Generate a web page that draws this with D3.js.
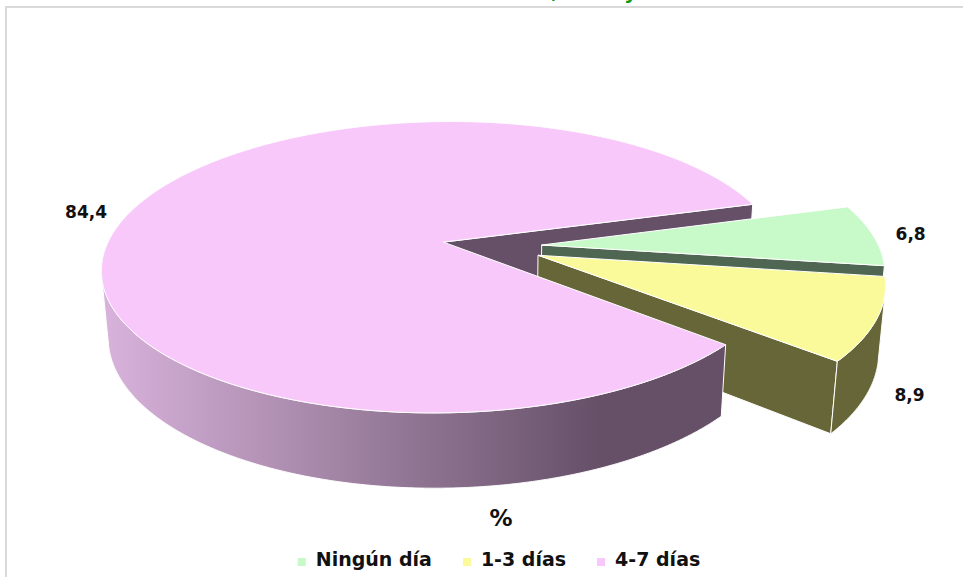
<!DOCTYPE html>
<html>
<head>
<meta charset="utf-8">
<script src="https://cdn.jsdelivr.net/npm/d3@7"></script>
<style>
  body { margin: 0; background: #fff; }
  svg { display: block; }
</style>
</head>
<body>
<script>
// data
const categories = ["Ningún día", "1-3 días", "4-7 días"];
const values = [6.8, 8.9, 84.4];
const valueLabels = ["6,8", "8,9", "84,4"];
const axisTitle = "%";

// palette
const topColor = d3.scaleOrdinal(categories, ["#c8f9c8", "#fafa9b", "#f8c8fa"]);
const sideColor = d3.scaleOrdinal(categories, ["#4e6652", "#666638", "#655068"]);
const sideLight = d3.scaleOrdinal(categories, ["#6f8a72", "#8a8a55", "#d9b3dc"]);

const W = 963, H = 577;
const svg = d3.select("body").append("svg")
    .attr("width", W)
    .attr("height", H);

// chart area frame (only top/left visible)
svg.append("path")
    .attr("d", "M6,577V7H963")
    .attr("fill", "none")
    .attr("stroke", "#d9d9d9")
    .attr("stroke-width", 2);

// cut-off title
svg.append("text").attr("x", 551).attr("y", -2)
    .attr("font-family", "DejaVu Sans").attr("font-weight", "bold").attr("font-size", 20)
    .attr("fill", "#119a11").text(",");
svg.append("text").attr("x", 624).attr("y", -1)
    .attr("font-family", "DejaVu Sans").attr("font-weight", "bold").attr("font-size", 20)
    .attr("fill", "#119a11").text("y");

// 3d projection
const cx = 492, cy = 246.5, fx = 1770, fy = 1795;
const D = 5.25, tilt = 24.7 * Math.PI / 180;
const depth = 0.215, explode = 0.148;
const sinT = Math.sin(tilt), cosT = Math.cos(tilt);
const cam = [0, D * sinT, D * cosT];

function project(p) {
  const [x, y, z] = p;
  const v = y * cosT - z * sinT;
  const d = D - (y * sinT + z * cosT);
  return [cx + fx * x / d, cy - fy * v / d, d];
}

const start = 73.7 * Math.PI / 180;
const pie = d3.pie().sort(null).startAngle(start).endAngle(start + 2 * Math.PI);
const arcs = pie(values).map((a, i) => {
  const mid = (a.startAngle + a.endAngle) / 2;
  return {...a, key: categories[i], label: valueLabels[i], mid,
    ox: explode * Math.sin(mid), oz: -explode * Math.cos(mid)};
});

const pt = (a, t, r, y) => [a.ox + r * Math.sin(t), y, a.oz - r * Math.cos(t)];
const line = d3.line();

function sampleAngles(t0, t1) {
  const n = Math.max(2, Math.ceil((t1 - t0) / 0.005));
  return d3.range(n + 1).map(i => t0 + (t1 - t0) * i / n);
}
function facing(p, n) {
  return (cam[0] - p[0]) * n[0] + (cam[1] - p[1]) * n[1] + (cam[2] - p[2]) * n[2] > 0;
}

const sides = [], tops = [];
arcs.forEach(a => {
  const ts = sampleAngles(a.startAngle, a.endAngle);
  // top face
  const topPts = [pt(a, 0, 0, 0), ...ts.map(t => pt(a, t, 1, 0))].map(project);
  tops.push({a, type: "top", pts: topPts});

  // outer wall, visible runs only
  let run = [];
  const flush = () => {
    if (run.length > 1) {
      const pts = [...run.map(t => pt(a, t, 1, 0)), ...run.slice().reverse().map(t => pt(a, t, 1, -depth))].map(project);
      sides.push({a, type: "wall", pts});
    }
    run = [];
  };
  ts.forEach(t => {
    if (facing(pt(a, t, 1, 0), [Math.sin(t), 0, -Math.cos(t)])) run.push(t);
    else flush();
  });
  flush();

  // cut faces
  const c = pt(a, 0, 0, 0);
  [[a.startAngle, [-Math.cos(a.startAngle), 0, -Math.sin(a.startAngle)]],
   [a.endAngle, [Math.cos(a.endAngle), 0, Math.sin(a.endAngle)]]].forEach(([t, n]) => {
    if (!facing(c, n)) return;
    const pts = [pt(a, t, 0, 0), pt(a, t, 1, 0), pt(a, t, 1, -depth), pt(a, t, 0, -depth)].map(project);
    sides.push({a, type: "cut", pts});
  });
});

const meanD = f => d3.mean(f.pts, p => p[2]);
sides.sort((p, q) => meanD(q) - meanD(p));
tops.sort((p, q) => meanD(q) - meanD(p));

// wall gradients
const defs = svg.append("defs");
arcs.forEach((a, i) => {
  const g = defs.append("linearGradient")
      .attr("id", "wall" + i)
      .attr("gradientUnits", "userSpaceOnUse")
      .attr("x1", 100).attr("x2", 600).attr("y1", 0).attr("y2", 0);
  g.append("stop").attr("offset", 0).attr("stop-color", sideLight(a.key));
  g.append("stop").attr("offset", 1).attr("stop-color", sideColor(a.key));
});

const pie3d = svg.append("g")
    .attr("stroke", "#fff")
    .attr("stroke-width", 1)
    .attr("stroke-linejoin", "round");

pie3d.selectAll("path.side")
  .data(sides)
  .join("path")
    .attr("class", "side")
    .attr("d", f => line(f.pts.map(p => [p[0], p[1]])) + "Z")
    .attr("fill", f => f.type === "wall" ? `url(#wall${f.a.index})` : sideColor(f.a.key));

pie3d.selectAll("path.top")
  .data(tops)
  .join("path")
    .attr("class", "top")
    .attr("d", f => line(f.pts.map(p => [p[0], p[1]])) + "Z")
    .attr("fill", f => topColor(f.a.key));

// value labels
const font = "DejaVu Sans";
svg.append("g")
    .attr("font-family", font)
    .attr("font-weight", "bold")
    .attr("font-size", 17)
    .attr("fill", "#111")
  .selectAll("text")
  .data(arcs)
  .join("text")
    .each(function(a) {
      const p0 = pt(a, a.mid, 1.07, 0);
      const p = project(p0[2] > 0 ? pt(a, a.mid, 1.07, -depth) : p0);
      d3.select(this)
        .attr("x", p[0])
        .attr("y", p[1])
        .attr("dy", "0.35em")
        .attr("text-anchor", p[0] < cx ? "end" : "start")
        .text(a.label);
    });

// axis title
svg.append("text")
    .attr("x", 501)
    .attr("y", 526)
    .attr("text-anchor", "middle")
    .attr("font-family", font)
    .attr("font-weight", "bold")
    .attr("font-size", 23)
    .attr("fill", "#111")
    .text(axisTitle);

// legend
const legend = svg.append("g")
    .attr("font-family", font)
    .attr("font-weight", "bold")
    .attr("font-size", 19)
    .attr("fill", "#111");
const items = legend.selectAll("g")
  .data(categories)
  .join("g");
items.append("rect")
    .attr("width", 8).attr("height", 8)
    .attr("y", -8)
    .attr("fill", d => topColor(d));
items.append("text")
    .attr("x", 18)
    .text(d => d);
let lx = 0;
items.each(function() {
  d3.select(this).attr("transform", `translate(${lx},0)`);
  lx += 18 + d3.select(this).select("text").node().getComputedTextLength() + 31;
});
const legendW = lx - 31;
legend.attr("transform", `translate(${499 - legendW / 2},566)`);
</script>
</body>
</html>
